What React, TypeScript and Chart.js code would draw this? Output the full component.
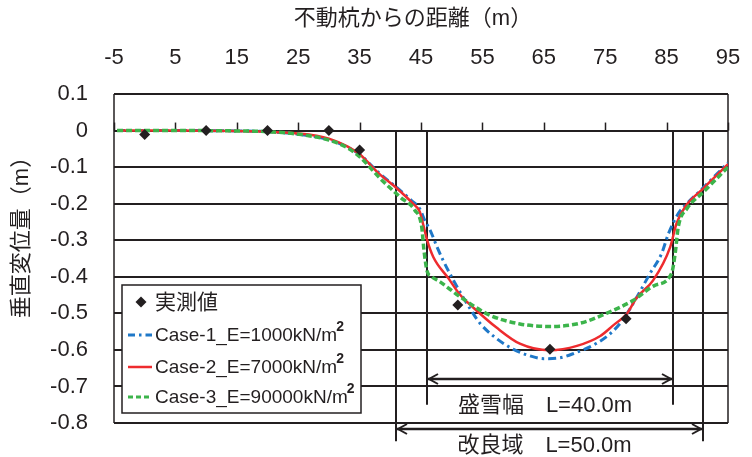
import { useEffect, useRef } from "react";
import { Chart, registerables } from "chart.js";

Chart.register(...registerables);

// ---- axis ticks / titles ----
const xTickValues = [-5, 5, 15, 25, 35, 45, 55, 65, 75, 85, 95];
const yTickValues = [-0.8, -0.7, -0.6, -0.5, -0.4, -0.3, -0.2, -0.1, 0, 0.1];
const yTickLabels = ["-0.8", "-0.7", "-0.6", "-0.5", "-0.4", "-0.3", "-0.2", "-0.1", "0", "0.1"];
const xAxisTitle = "不動杭からの距離（m）";
const yAxisTitle = "垂直変位量（m）";

// ---- series ----
const seriesNames = ["実測値", "Case-1_E=1000kN/m", "Case-2_E=7000kN/m", "Case-3_E=90000kN/m"];
const unitSuperscript = "2";

const measuredX = [0, 10, 20, 30, 35, 51, 66, 78.4];
const measuredY = [-0.011, 0, 0, 0, -0.053, -0.477, -0.598, -0.515];

const case1X = [-4.5, 5, 15, 20, 25, 30, 33, 35, 38.3, 41, 43.5, 44.8, 45.6, 46.5, 47.6, 48.6, 50.3, 52, 54.6, 57, 60, 62.5, 65, 67.5, 70, 73.6, 76, 78, 80, 82.3, 84.2, 85.3, 86.9, 88.3, 90.5, 95];
const case1Y = [0, 0, -0.001, -0.003, -0.01, -0.025, -0.045, -0.065, -0.118, -0.155, -0.192, -0.214, -0.245, -0.273, -0.318, -0.355, -0.41, -0.46, -0.527, -0.565, -0.598, -0.615, -0.624, -0.622, -0.609, -0.582, -0.553, -0.515, -0.46, -0.391, -0.336, -0.282, -0.227, -0.2, -0.164, -0.088];

const case2X = [-4.5, 5, 15, 20, 25, 28, 30, 33, 35, 38.3, 41, 43.7, 44.8, 45.4, 46, 47, 49.5, 51.4, 53.5, 57.3, 61.1, 66, 70.4, 74.2, 76.3, 78.5, 80.1, 82.8, 85.6, 86.6, 88, 91, 95];
const case2Y = [0, 0, -0.001, -0.003, -0.008, -0.014, -0.022, -0.043, -0.065, -0.12, -0.157, -0.2, -0.222, -0.26, -0.3, -0.346, -0.405, -0.45, -0.484, -0.539, -0.583, -0.601, -0.589, -0.562, -0.533, -0.502, -0.458, -0.41, -0.318, -0.255, -0.209, -0.158, -0.092];

const case3X = [-4.5, 5, 15, 20, 25, 30, 33, 35.1, 38.3, 41.6, 44, 45.1, 45.5, 46, 46.6, 48.1, 51.4, 56.2, 61.1, 66, 70.9, 75.2, 79.6, 83, 85.8, 86.4, 86.9, 88.3, 91, 95];
const case3Y = [0, 0, -0.001, -0.003, -0.01, -0.026, -0.047, -0.073, -0.13, -0.182, -0.218, -0.262, -0.33, -0.385, -0.398, -0.414, -0.455, -0.505, -0.529, -0.536, -0.527, -0.5, -0.464, -0.424, -0.391, -0.336, -0.264, -0.214, -0.168, -0.1];

// ---- span annotations ----
const spanNames = ["盛雪幅　L=40.0m", "改良域　L=50.0m"];
const spanFrom = [46, 41];
const spanTo = [86, 91];

const INK = "#231f20";
const BLUE = "#1f78c8";
const RED = "#ee2b2e";
const GREEN = "#3cb44b";
const FAMILY = '"Liberation Sans", "Noto Sans CJK JP", sans-serif';

const toPts = (xs: number[], ys: number[]) => xs.map((x, i) => ({ x, y: ys[i] }));

function seg(ctx: CanvasRenderingContext2D, x1: number, y1: number, x2: number, y2: number) {
  ctx.beginPath();
  ctx.moveTo(x1, y1);
  ctx.lineTo(x2, y2);
  ctx.stroke();
}

const overlayPlugin = {
  id: "overlay",
  beforeDatasetsDraw(chart: any) {
    const { ctx, chartArea: ca, scales } = chart;
    const xs = scales.x;
    const ys = scales.y;
    ctx.save();
    ctx.strokeStyle = INK;
    ctx.lineWidth = 1.5;
    seg(ctx, ca.left, ca.top, ca.left, ca.bottom);
    seg(ctx, ca.right, ca.top, ca.right, ca.bottom);
    const y0 = ys.getPixelForValue(0);
    xTickValues.forEach((v) => {
      const px = Math.round(xs.getPixelForValue(v)) + 0.5;
      seg(ctx, px, y0 - 8, px, y0);
    });
    const lineEnd = [-0.75, -0.85];
    ctx.lineWidth = 2;
    spanFrom.forEach((f, i) => {
      const yb = ys.getPixelForValue(lineEnd[i]);
      [f, spanTo[i]].forEach((v) => {
        const px = Math.round(xs.getPixelForValue(v));
        seg(ctx, px, y0, px, yb);
      });
    });
    ctx.restore();
  },
  afterDraw(chart: any) {
    const { ctx, chartArea: ca, scales } = chart;
    const xs = scales.x;
    const ys = scales.y;
    ctx.save();
    ctx.fillStyle = INK;
    ctx.strokeStyle = INK;

    const arrowLevel = [-0.68, -0.816];
    const textLevel = [-0.753, -0.862];
    spanFrom.forEach((f, i) => {
      const x1 = Math.round(xs.getPixelForValue(f));
      const x2 = Math.round(xs.getPixelForValue(spanTo[i]));
      const ya = Math.round(ys.getPixelForValue(arrowLevel[i]));
      ctx.lineWidth = 2.5;
      seg(ctx, x1 + 1, ya, x2 - 1, ya);
      ctx.lineWidth = 2;
      ctx.beginPath();
      ctx.moveTo(x1 + 11, ya - 5);
      ctx.lineTo(x1 + 2, ya);
      ctx.lineTo(x1 + 11, ya + 5);
      ctx.moveTo(x2 - 11, ya - 5);
      ctx.lineTo(x2 - 2, ya);
      ctx.lineTo(x2 - 11, ya + 5);
      ctx.stroke();
      ctx.font = `22px ${FAMILY}`;
      ctx.textAlign = "center";
      ctx.textBaseline = "middle";
      ctx.fillText(spanNames[i], (x1 + x2) / 2 - 5, ys.getPixelForValue(textLevel[i]));
    });

    ctx.font = `22px ${FAMILY}`;
    ctx.textAlign = "center";
    ctx.textBaseline = "middle";
    ctx.fillText(xAxisTitle, 413, 19);
    ctx.save();
    ctx.translate(22, 232);
    ctx.rotate(-Math.PI / 2);
    ctx.fillText(yAxisTitle, 0, 0);
    ctx.restore();

    const bx = ca.left + 8;
    const by = 285;
    const bw = 239;
    const bh = 128;
    ctx.fillStyle = "#ffffff";
    ctx.fillRect(bx, by, bw, bh);
    ctx.lineWidth = 1.5;
    ctx.strokeStyle = INK;
    ctx.strokeRect(bx, by, bw, bh);

    const rows = [by + 17, by + 50, by + 82, by + 112];
    const sx1 = bx + 6;
    const sx2 = bx + 30;
    const tx = bx + 33;
    ctx.fillStyle = INK;
    ctx.beginPath();
    const cx = bx + 19;
    const r = 5.5;
    ctx.moveTo(cx, rows[0] - r);
    ctx.lineTo(cx + r, rows[0]);
    ctx.lineTo(cx, rows[0] + r);
    ctx.lineTo(cx - r, rows[0]);
    ctx.closePath();
    ctx.fill();
    ctx.textAlign = "left";
    ctx.textBaseline = "middle";
    ctx.font = `21px ${FAMILY}`;
    ctx.fillText(seriesNames[0], tx, rows[0] + 1);

    const styles = [
      { c: BLUE, w: 3, d: [7, 4, 2.5, 4] },
      { c: RED, w: 2.5, d: [] },
      { c: GREEN, w: 3, d: [5, 3] },
    ];
    styles.forEach((s, i) => {
      const yy = rows[i + 1];
      ctx.strokeStyle = s.c;
      ctx.lineWidth = s.w;
      ctx.setLineDash(s.d);
      seg(ctx, sx1, yy, sx2, yy);
      ctx.setLineDash([]);
      ctx.fillStyle = INK;
      ctx.font = `19px ${FAMILY}`;
      const label = seriesNames[i + 1];
      ctx.fillText(label, tx, yy + 1);
      const w = ctx.measureText(label).width;
      ctx.font = `bold 14px ${FAMILY}`;
      ctx.fillText(unitSuperscript, tx + w - 1, yy - 8);
    });
    ctx.restore();
  },
};

export default function App() {
  const ref = useRef<HTMLCanvasElement>(null);
  useEffect(() => {
    const canvas = ref.current!;
    const chart = new Chart(canvas, {
      type: "scatter",
      data: {
        datasets: [
          {
            label: seriesNames[0],
            data: toPts(measuredX, measuredY),
            showLine: false,
            pointStyle: "rectRot",
            pointRadius: 5.5,
            backgroundColor: INK,
            borderColor: INK,
            borderWidth: 0,
            order: 0,
          },
          {
            label: seriesNames[1],
            data: toPts(case1X, case1Y),
            showLine: true,
            borderColor: BLUE,
            borderWidth: 3,
            borderDash: [8, 4, 2.5, 4],
            pointRadius: 0,
            cubicInterpolationMode: "monotone",
            fill: false,
            order: 3,
          },
          {
            label: seriesNames[2],
            data: toPts(case2X, case2Y),
            showLine: true,
            borderColor: RED,
            borderWidth: 2.5,
            pointRadius: 0,
            cubicInterpolationMode: "monotone",
            fill: false,
            order: 2,
          },
          {
            label: seriesNames[3],
            data: toPts(case3X, case3Y),
            showLine: true,
            borderColor: GREEN,
            borderWidth: 3.5,
            borderDash: [6, 3],
            pointRadius: 0,
            cubicInterpolationMode: "monotone",
            fill: false,
            order: 1,
          },
        ],
      } as any,
      options: {
        responsive: false,
        devicePixelRatio: 1,
        animation: false,
        layout: { padding: { top: 0, left: 0, right: 24, bottom: 34 } },
        plugins: { legend: { display: false }, tooltip: { enabled: false }, title: { display: false } },
        scales: {
          x: {
            type: "linear",
            position: "top",
            min: -5,
            max: 95,
            afterBuildTicks: (s: any) => {
              s.ticks = xTickValues.map((v) => ({ value: v }));
            },
            afterFit: (s: any) => {
              s.height = 94;
              s.paddingLeft = 0;
              s.paddingRight = 0;
            },
            ticks: {
              autoSkip: false,
              maxRotation: 0,
              padding: 23,
              color: INK,
              font: { size: 22, family: FAMILY },
              callback: (v: any) => String(v),
            },
            grid: { display: false, drawTicks: false },
            border: { display: false },
          },
          y: {
            type: "linear",
            min: -0.8,
            max: 0.1,
            afterBuildTicks: (s: any) => {
              s.ticks = yTickValues.map((v) => ({ value: v }));
            },
            afterFit: (s: any) => {
              s.width = 114;
              s.paddingTop = 0;
              s.paddingBottom = 0;
            },
            ticks: {
              padding: 26,
              color: INK,
              font: { size: 22, family: FAMILY },
              callback: (_v: any, i: number) => yTickLabels[i],
            },
            grid: { color: INK, lineWidth: 2, drawTicks: false },
            border: { display: false },
          },
        },
      } as any,
      plugins: [overlayPlugin],
    });
    return () => chart.destroy();
  }, []);
  return (
    <div style={{ position: "fixed", left: 0, top: 0, width: 752, height: 457, background: "#ffffff" }}>
      <canvas ref={ref} width={752} height={457} style={{ display: "block", width: 752, height: 457 }} />
    </div>
  );
}
